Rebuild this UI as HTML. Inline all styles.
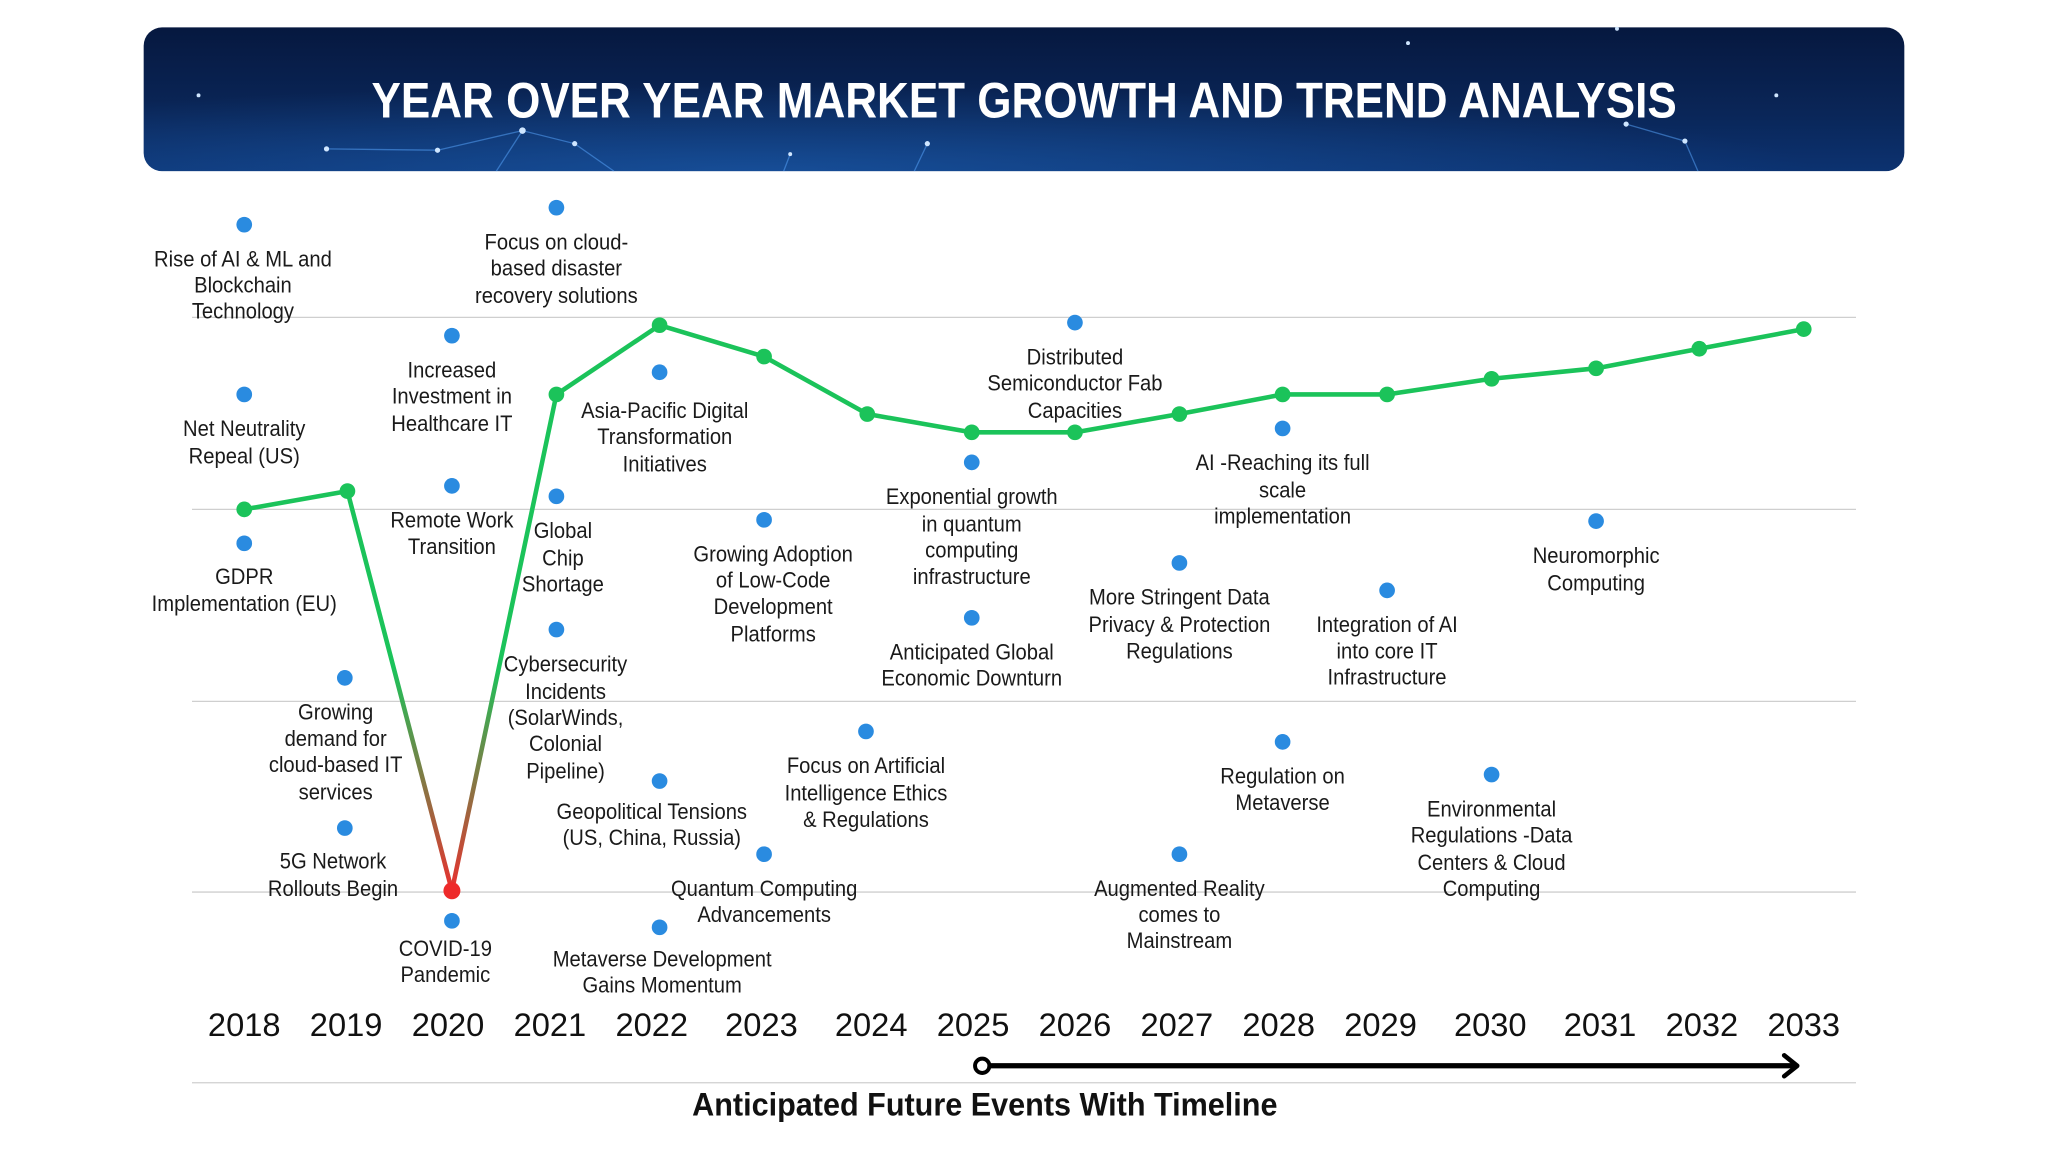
<!DOCTYPE html>
<html><head><meta charset="utf-8"><style>
html,body{margin:0;padding:0;background:#fff;}
svg{display:block}
text{font-family:"Liberation Sans",sans-serif;}
.l{font-size:17px;fill:#1a1a1a;text-anchor:middle;}
.y{font-size:25px;fill:#111;text-anchor:middle;}
</style></head><body>
<svg width="2048" height="1152" viewBox="0 0 1568 882" xmlns="http://www.w3.org/2000/svg">
<defs>
<linearGradient id="bg" x1="0" y1="0" x2="0" y2="1">
<stop offset="0" stop-color="#06183f"/><stop offset="0.6" stop-color="#0a2658"/><stop offset="1" stop-color="#0c3270"/>
</linearGradient>
<radialGradient id="glow" cx="0.35" cy="1" r="0.6">
<stop offset="0" stop-color="#1d5fb0" stop-opacity="0.6"/><stop offset="1" stop-color="#1d5fb0" stop-opacity="0"/>
</radialGradient>
<linearGradient id="red" x1="0" y1="0" x2="0" y2="1">
<stop offset="0" stop-color="#1bc35a"/><stop offset="0.55" stop-color="#1bc35a"/><stop offset="1" stop-color="#e8312f"/>
</linearGradient>
</defs>
<rect x="110" y="21" width="1348" height="110" rx="14" fill="url(#bg)"/>
<rect x="110" y="21" width="1348" height="110" rx="14" fill="url(#glow)"/>
<g stroke="#5aa8ff" stroke-opacity="0.5" stroke-width="1" fill="none">
<path d="M250 114 L335 115 L400 100 L440 110 L470 131 M400 100 L380 131 M605 118 L600 131 M1245 95 L1290 108 L1300 131 M700 131 L710 110"/>
</g>
<g fill="#cfe6ff">
<circle cx="152" cy="73" r="1.5"/><circle cx="250" cy="114" r="2"/><circle cx="335" cy="115" r="2"/><circle cx="400" cy="100" r="2.5"/><circle cx="440" cy="110" r="2"/><circle cx="605" cy="118" r="1.5"/><circle cx="1245" cy="95" r="2"/><circle cx="1290" cy="108" r="2"/><circle cx="1078" cy="33" r="1.5"/><circle cx="1360" cy="73" r="1.5"/><circle cx="1238" cy="22" r="1.5"/><circle cx="710" cy="110" r="2"/>
</g>
<g transform="scale(0.887,1)">
<text x="884" y="90" text-anchor="middle" style="font-size:38px;font-weight:bold;fill:#fff">YEAR OVER YEAR MARKET GROWTH AND TREND ANALYSIS</text>
</g>

<g stroke="#cfcfcf" stroke-width="1">
<line x1="147" y1="243" x2="1421" y2="243"/><line x1="147" y1="390" x2="1421" y2="390"/><line x1="147" y1="537" x2="1421" y2="537"/><line x1="147" y1="683" x2="1421" y2="683"/><line x1="147" y1="829" x2="1421" y2="829"/>
</g>

<polyline fill="none" stroke="#1bc35a" stroke-width="3.5" stroke-linejoin="round" points="187,390 266,376"/>
<polyline fill="none" stroke="url(#red)" stroke-width="3.5" stroke-linejoin="round" points="266,376 346,682 426,302"/>
<polyline fill="none" stroke="#1bc35a" stroke-width="3.5" stroke-linejoin="round" points="426,302 505,249 585,273 664,317 744,331 823,331 903,317 982,302 1062,302 1142,290 1222,282 1301,267 1381,252"/>
<g fill="#1bc35a">
<circle cx="187" cy="390" r="6"/><circle cx="266" cy="376" r="6"/><circle cx="426" cy="302" r="6"/><circle cx="505" cy="249" r="6"/><circle cx="585" cy="273" r="6"/><circle cx="664" cy="317" r="6"/><circle cx="744" cy="331" r="6"/><circle cx="823" cy="331" r="6"/><circle cx="903" cy="317" r="6"/><circle cx="982" cy="302" r="6"/><circle cx="1062" cy="302" r="6"/><circle cx="1142" cy="290" r="6"/><circle cx="1222" cy="282" r="6"/><circle cx="1301" cy="267" r="6"/><circle cx="1381" cy="252" r="6"/>
</g>
<circle cx="346" cy="682" r="6.5" fill="#ee2a2a"/>

<g fill="#2a8be0">
<circle cx="187" cy="172" r="6"/><circle cx="187" cy="302" r="6"/><circle cx="187" cy="416" r="6"/><circle cx="264" cy="519" r="6"/><circle cx="264" cy="634" r="6"/><circle cx="346" cy="705" r="6"/><circle cx="346" cy="257" r="6"/><circle cx="346" cy="372" r="6"/><circle cx="426" cy="159" r="6"/><circle cx="426" cy="380" r="6"/><circle cx="426" cy="482" r="6"/><circle cx="505" cy="285" r="6"/><circle cx="505" cy="598" r="6"/><circle cx="505" cy="710" r="6"/><circle cx="585" cy="398" r="6"/><circle cx="585" cy="654" r="6"/><circle cx="663" cy="560" r="6"/><circle cx="744" cy="354" r="6"/><circle cx="744" cy="473" r="6"/><circle cx="823" cy="247" r="6"/><circle cx="903" cy="431" r="6"/><circle cx="903" cy="654" r="6"/><circle cx="982" cy="328" r="6"/><circle cx="982" cy="568" r="6"/><circle cx="1062" cy="452" r="6"/><circle cx="1142" cy="593" r="6"/><circle cx="1222" cy="399" r="6"/>
</g>

<g transform="scale(0.91,1)">
<text class="l" x="204.4" y="204">Rise of AI &amp; ML and</text><text class="l" x="204.4" y="224">Blockchain</text><text class="l" x="204.4" y="244">Technology</text>
<text class="l" x="205.5" y="334">Net Neutrality</text><text class="l" x="205.5" y="355">Repeal (US)</text>
<text class="l" x="205.5" y="447">GDPR</text><text class="l" x="205.5" y="468">Implementation (EU)</text>
<text class="l" x="282.4" y="551">Growing</text><text class="l" x="282.4" y="571">demand for</text><text class="l" x="282.4" y="591">cloud-based IT</text><text class="l" x="282.4" y="612">services</text>
<text class="l" x="280.2" y="665">5G Network</text><text class="l" x="280.2" y="686">Rollouts Begin</text>
<text class="l" x="374.7" y="732">COVID-19</text><text class="l" x="374.7" y="752">Pandemic</text>
<text class="l" x="380.2" y="289">Increased</text><text class="l" x="380.2" y="309">Investment in</text><text class="l" x="380.2" y="330">Healthcare IT</text>
<text class="l" x="380.2" y="404">Remote Work</text><text class="l" x="380.2" y="424">Transition</text>
<text class="l" x="468.1" y="191">Focus on cloud-</text><text class="l" x="468.1" y="211">based disaster</text><text class="l" x="468.1" y="232">recovery solutions</text>
<text class="l" x="473.6" y="412">Global</text><text class="l" x="473.6" y="433">Chip</text><text class="l" x="473.6" y="453">Shortage</text>
<text class="l" x="475.8" y="514">Cybersecurity</text><text class="l" x="475.8" y="535">Incidents</text><text class="l" x="475.8" y="555">(SolarWinds,</text><text class="l" x="475.8" y="575">Colonial</text><text class="l" x="475.8" y="596">Pipeline)</text>
<text class="l" x="559.3" y="320">Asia-Pacific Digital</text><text class="l" x="559.3" y="340">Transformation</text><text class="l" x="559.3" y="361">Initiatives</text>
<text class="l" x="548.4" y="627">Geopolitical Tensions</text><text class="l" x="548.4" y="647">(US, China, Russia)</text>
<text class="l" x="557.1" y="740">Metaverse Development</text><text class="l" x="557.1" y="760">Gains Momentum</text>
<text class="l" x="650.5" y="430">Growing Adoption</text><text class="l" x="650.5" y="450">of Low-Code</text><text class="l" x="650.5" y="470">Development</text><text class="l" x="650.5" y="491">Platforms</text>
<text class="l" x="642.9" y="686">Quantum Computing</text><text class="l" x="642.9" y="706">Advancements</text>
<text class="l" x="728.6" y="592">Focus on Artificial</text><text class="l" x="728.6" y="613">Intelligence Ethics</text><text class="l" x="728.6" y="633">&amp; Regulations</text>
<text class="l" x="817.6" y="386">Exponential growth</text><text class="l" x="817.6" y="407">in quantum</text><text class="l" x="817.6" y="427">computing</text><text class="l" x="817.6" y="447">infrastructure</text>
<text class="l" x="817.6" y="505">Anticipated Global</text><text class="l" x="817.6" y="525">Economic Downturn</text>
<text class="l" x="904.4" y="279">Distributed</text><text class="l" x="904.4" y="299">Semiconductor Fab</text><text class="l" x="904.4" y="320">Capacities</text>
<text class="l" x="992.3" y="463">More Stringent Data</text><text class="l" x="992.3" y="484">Privacy &amp; Protection</text><text class="l" x="992.3" y="504">Regulations</text>
<text class="l" x="992.3" y="686">Augmented Reality</text><text class="l" x="992.3" y="706">comes to</text><text class="l" x="992.3" y="726">Mainstream</text>
<text class="l" x="1079.1" y="360">AI -Reaching its full</text><text class="l" x="1079.1" y="381">scale</text><text class="l" x="1079.1" y="401">implementation</text>
<text class="l" x="1079.1" y="600">Regulation on</text><text class="l" x="1079.1" y="620">Metaverse</text>
<text class="l" x="1167" y="484">Integration of AI</text><text class="l" x="1167" y="504">into core IT</text><text class="l" x="1167" y="524">Infrastructure</text>
<text class="l" x="1254.9" y="625">Environmental</text><text class="l" x="1254.9" y="645">Regulations -Data</text><text class="l" x="1254.9" y="666">Centers &amp; Cloud</text><text class="l" x="1254.9" y="686">Computing</text>
<text class="l" x="1342.9" y="431">Neuromorphic</text><text class="l" x="1342.9" y="452">Computing</text>
</g>

<g>
<text class="y" x="187" y="793">2018</text><text class="y" x="265" y="793">2019</text><text class="y" x="343" y="793">2020</text><text class="y" x="421" y="793">2021</text><text class="y" x="499" y="793">2022</text><text class="y" x="583" y="793">2023</text><text class="y" x="667" y="793">2024</text><text class="y" x="745" y="793">2025</text><text class="y" x="823" y="793">2026</text><text class="y" x="901" y="793">2027</text><text class="y" x="979" y="793">2028</text><text class="y" x="1057" y="793">2029</text><text class="y" x="1141" y="793">2030</text><text class="y" x="1225" y="793">2031</text><text class="y" x="1303" y="793">2032</text><text class="y" x="1381" y="793">2033</text>
</g>

<line x1="757" y1="816" x2="1374" y2="816" stroke="#000" stroke-width="4"/>
<circle cx="752" cy="816" r="5.5" fill="#fff" stroke="#000" stroke-width="3"/>
<polyline points="1366,808 1376,816 1366,824" fill="none" stroke="#000" stroke-width="3.5" stroke-linejoin="round" stroke-linecap="round"/>
<g transform="scale(0.937,1)">
<text x="804.7" y="854" text-anchor="middle" style="font-size:25px;font-weight:bold;fill:#111">Anticipated Future Events With Timeline</text>
</g>
</svg>
</body></html>
